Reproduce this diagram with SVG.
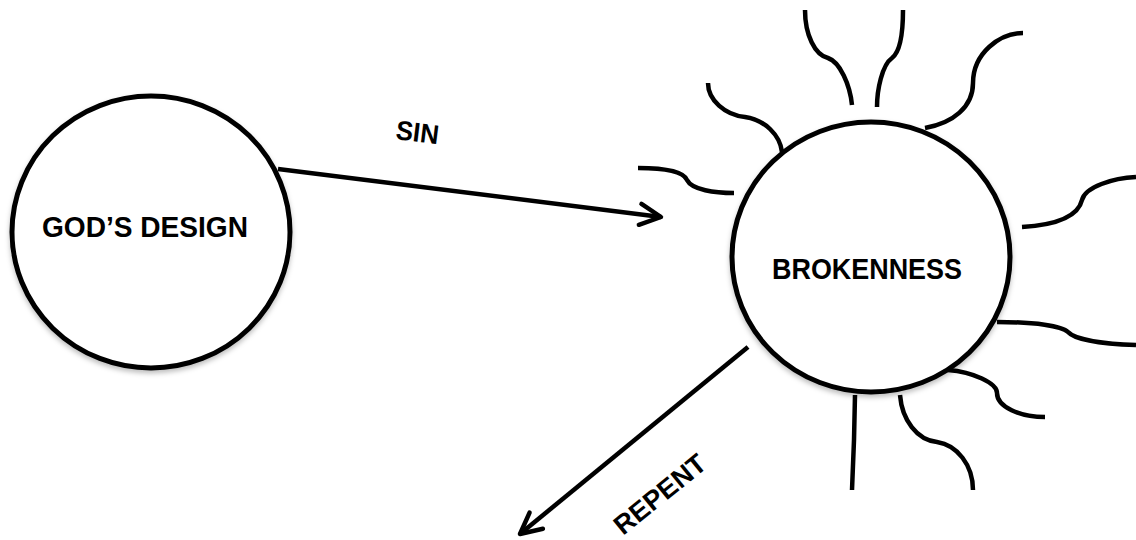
<svg xmlns="http://www.w3.org/2000/svg" width="1136" height="540" viewBox="0 0 1136 540">
  <style>
    .node { fill: #ffffff; stroke: #000000; stroke-width: 5; filter: url(#shadow); }
    .label { font-family: "Liberation Sans", Arial, sans-serif; font-weight: bold; fill: #000000; }
    .conn { fill: none; stroke: #000000; stroke-width: 4.5; marker-end: url(#chevron); }
    .ray { fill: none; stroke: #000000; stroke-width: 4.5; }
  </style>
  <defs>
    <filter id="shadow" x="-10%" y="-10%" width="120%" height="125%">
      <feDropShadow dx="0" dy="3" stdDeviation="2.5" flood-color="#000000" flood-opacity="0.25"/>
    </filter>
    <marker id="chevron" markerUnits="userSpaceOnUse" markerWidth="40" markerHeight="40" refX="0" refY="0" orient="auto" overflow="visible">
      <path d="M-21,-10.5 L0,0 L-21,10.5" fill="none" stroke="#000000" stroke-width="4.5" stroke-linecap="round" stroke-linejoin="round"/>
    </marker>
  </defs>
  <rect width="1136" height="540" fill="#ffffff"/>

  <g id="rays">
    <path class="ray" d="M708,83 C708,100 725,115 745,117 C765,120 780,135 782,152"/>
    <path class="ray" d="M805,10 C805,35 815,55 828,58 C840,62 850,85 852,105"/>
    <path class="ray" d="M903,10 C903,35 900,52 892,58 C882,65 877,90 877,107"/>
    <path class="ray" d="M925,128 C953,123 973,107 973,83 C973,53 1000,33 1023,33"/>
    <path class="ray" d="M638,168 C660,168 683,170 687,180 C692,190 715,193 734,193"/>
    <path class="ray" d="M1022,227 C1055,225 1078,217 1082,200 C1085,187 1113,178 1136,177"/>
    <path class="ray" d="M997,322 C1035,322 1062,326 1068,332 C1075,340 1105,344 1136,345"/>
    <path class="ray" d="M948,370 C973,372 997,383 997,393 C997,407 1020,417 1045,417"/>
    <path class="ray" d="M855,395 L854,440 L852,490"/>
    <path class="ray" d="M900,395 C902,420 917,440 937,442 C957,445 973,465 973,490"/>
  </g>

  <g id="gods-design">
    <ellipse class="node" cx="151" cy="232" rx="139" ry="136"/>
    <text class="label" x="42" y="237" font-size="29" textLength="206" lengthAdjust="spacingAndGlyphs">GOD’S DESIGN</text>
  </g>

  <g id="brokenness">
    <ellipse class="node" cx="871" cy="257" rx="139" ry="135"/>
    <text class="label" x="772" y="279" font-size="29" textLength="190" lengthAdjust="spacingAndGlyphs">BROKENNESS</text>
  </g>

  <g id="connectors">
    <g id="edge-sin">
      <line class="conn" x1="278" y1="169" x2="661" y2="217"/>
      <text class="label" font-size="27" textLength="43" lengthAdjust="spacingAndGlyphs" transform="translate(395,139) rotate(7)">SIN</text>
    </g>
    <g id="edge-repent">
      <line class="conn" x1="748" y1="347" x2="520" y2="534"/>
      <text class="label" font-size="27" textLength="110" lengthAdjust="spacingAndGlyphs" transform="translate(623,536) rotate(-39)">REPENT</text>
    </g>
  </g>
</svg>
